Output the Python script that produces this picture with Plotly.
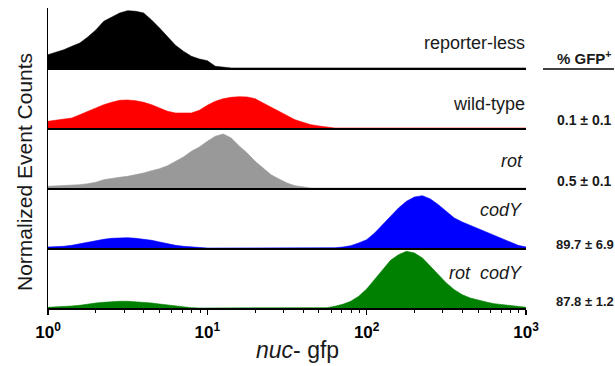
import plotly.graph_objects as go
from plotly.subplots import make_subplots

# ---- data: histogram heights (normalized counts) on log10 bins of nuc-gfp ----
log_bins = [0.00, 0.05, 0.10, 0.15, 0.20, 0.25, 0.30, 0.35, 0.40, 0.45,
            0.50, 0.55, 0.60, 0.65, 0.70, 0.75, 0.80, 0.85, 0.90, 0.95,
            1.00, 1.05, 1.10, 1.15, 1.20, 1.25, 1.30, 1.35, 1.40, 1.45,
            1.50, 1.55, 1.60, 1.65, 1.70, 1.75, 1.80, 1.85, 1.90, 1.95,
            2.00, 2.05, 2.10, 2.15, 2.20, 2.25, 2.30, 2.35, 2.40, 2.45,
            2.50, 2.55, 2.60, 2.65, 2.70, 2.75, 2.80, 2.85, 2.90, 2.95,
            3.00]

reporter_less = [13.3, 15.7, 18.3, 21.7, 25, 31, 38, 46.7, 50.7, 55,
                 57.3, 56.7, 55, 48, 40, 31.7, 22.7, 16.7, 11.7, 9,
                 7.3, 1.7, 0.5] + [0] * 38

wild_type = [6.7, 7.7, 8.3, 10, 13.3, 16.7, 20, 23.3, 25.7, 27.7,
             28, 27.3, 25.7, 23.3, 20, 16.7, 15, 14.7, 15, 17.7,
             22.7, 26.7, 29.3, 30.7, 31.3, 31, 29.3, 25, 20.7, 16.7,
             12.7, 8.3, 5.7, 3.3, 2, 1] + [0] * 25

rot = [1.7, 2, 2.3, 2.7, 3.3, 4.3, 5.7, 8.3, 9.7, 10.7,
       11.7, 13, 15, 17.3, 19.3, 22.3, 26.7, 31, 36.7, 41,
       46.7, 51.7, 54, 50, 42, 35, 26.7, 20, 13.3, 9,
       5, 2.3, 1] + [0] * 28

codY = [1, 1.3, 1.7, 2.7, 4.3, 6, 7.7, 8.7, 9.7, 10,
        10.3, 9.7, 9, 7.7, 6, 4.3, 2.7, 1.7, 1, 0.3] + [0] * 16 + \
       [0.3, 1, 2.3, 5, 8.3, 15, 23.3, 31.7, 40, 46.7,
        51, 52.3, 49, 43.3, 36.7, 30, 26, 22.7, 19.3, 16,
        12.7, 9, 6, 2.7, 1]

rot_codY = [0.7, 1, 1.3, 2, 2.7, 4, 5, 5.7, 6.3, 6.7,
            6.7, 6.3, 5.7, 5, 4, 3, 2, 1, 0.3] + [0] * 16 + \
           [0.3, 1.7, 3.7, 6.7, 11.7, 19, 28.3, 38.3, 47.7, 53.3,
            56.7, 55, 50, 41.7, 33.3, 25, 18.3, 13.3, 10, 7.7,
            6, 4.3, 3.3, 2.3, 1.3, 0.7]

strain_labels = ["reporter-less", "wild-type", "<i>rot</i>", "<i>codY</i>", "<i>rot\u00a0 codY</i>"]
gfp_pct = ["0.1 ± 0.1", "0.5 ± 0.1", "89.7 ± 6.9", "87.8 ± 1.2"]
tick_vals = [1, 10, 100, 1000]
tick_text = ["<b>10<sup>0</sup></b>", "<b>10<sup>1</sup></b>", "<b>10<sup>2</sup></b>", "<b>10<sup>3</sup></b>"]
minor_vals = [m * d for d in (1, 10, 100) for m in range(2, 10)]

series = [reporter_less, wild_type, rot, codY, rot_codY]
colors = ["#000000", "#ff0000", "#999999", "#0000ff", "#008000"]

x_vals = [10 ** v for v in log_bins]

# ---- figure ----
W, H = 615, 366
ML, MR, MT, MB = 48, 89, 8, 58
PW, PH = W - ML - MR, H - MT - MB


def pp(xp, yp):
    return (xp - ML) / PW, (H - MB - yp) / PH


fig = make_subplots(rows=5, cols=1, shared_xaxes=True, vertical_spacing=0)
for i, (vals, col) in enumerate(zip(series, colors)):
    fig.add_trace(go.Scatter(x=x_vals, y=vals, mode="lines", fill="tozeroy",
                             line=dict(color=col, width=0.6), fillcolor=col,
                             hoverinfo="skip", showlegend=False),
                  row=i + 1, col=1)

fig.update_xaxes(type="log", range=[0, 3], showline=True, linecolor="black",
                 linewidth=1.5, showgrid=False, zeroline=False, ticks="",
                 showticklabels=False)
fig.update_xaxes(row=5, col=1, ticks="outside", ticklen=5, tickwidth=1.5,
                 tickcolor="black", showticklabels=True, tickvals=tick_vals,
                 ticktext=tick_text, ticklabelstandoff=3,
                 tickfont=dict(size=17, family="Liberation Sans, Arial", color="black"),
                 minor=dict(ticks="outside", ticklen=3, tickwidth=1,
                            tickcolor="black", tickvals=minor_vals, showgrid=False))
fig.update_yaxes(range=[0, 60], showline=True, linecolor="black", linewidth=1.5,
                 showgrid=False, zeroline=False, ticks="", showticklabels=False)

font = "Liberation Sans, Arial, Helvetica"
ann = []
label_pos = [(527, 43), (527, 104), (525, 161), (525, 210), (525, 273)]
for txt, (xp, yp) in zip(strain_labels, label_pos):
    x, y = pp(xp, yp)
    ann.append(dict(text=txt, x=x, y=y, xref="paper", yref="paper",
                    xanchor="right", yanchor="middle", showarrow=False,
                    font=dict(size=18, family=font, color="#1a1a1a")))

x, y = pp(584, 57)
ann.append(dict(text="<b>% GFP<sup>+</sup></b>", x=x, y=y, xref="paper", yref="paper",
                xanchor="center", yanchor="middle", showarrow=False,
                font=dict(size=15, family=font, color="#1a1a1a")))
pct_pos = [(584, 120, 14), (584, 181, 14), (585, 244, 13), (585, 301, 13)]
for txt, (xp, yp, fs) in zip(gfp_pct, pct_pos):
    x, y = pp(xp, yp)
    ann.append(dict(text="<b>" + txt + "</b>", x=x, y=y, xref="paper", yref="paper",
                    xanchor="center", yanchor="middle", showarrow=False,
                    font=dict(size=fs, family=font, color="#1a1a1a")))

x, y = pp(297, 350)
ann.append(dict(text="<i>nuc</i>- gfp", x=x, y=y, xref="paper", yref="paper",
                xanchor="center", yanchor="middle", showarrow=False,
                font=dict(size=23, family=font, color="#1a1a1a")))
x, y = pp(24, 172)
ann.append(dict(text="Normalized Event Counts", x=x, y=y, xref="paper", yref="paper",
                xanchor="center", yanchor="middle", showarrow=False, textangle=-90,
                font=dict(size=21, family=font, color="#1a1a1a")))

x0, y0 = pp(543, 69)
x1, _ = pp(614, 69)
fig.add_shape(type="line", xref="paper", yref="paper", x0=x0, x1=x1, y0=y0, y1=y0,
              line=dict(color="black", width=1.5))

fig.update_layout(width=W, height=H, margin=dict(l=ML, r=MR, t=MT, b=MB),
                  plot_bgcolor="white", paper_bgcolor="white",
                  annotations=ann, showlegend=False)

fig.write_html("out.html", config={"displayModeBar": False, "staticPlot": True},
               post_script="document.body.style.margin='0';document.body.style.overflow='hidden';")
